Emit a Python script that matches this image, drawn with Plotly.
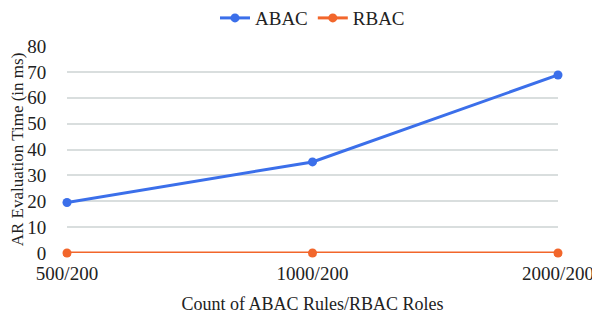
import plotly.graph_objects as go

categories = ["500/200", "1000/200", "2000/200"]
abac = [19.5, 35.2, 68.8]
rbac = [0, 0, 0]

font = "Liberation Serif, Times New Roman, serif"
fig = go.Figure()
fig.add_trace(go.Scatter(x=categories, y=abac, name="ABAC", mode="lines+markers", cliponaxis=False,
                         line=dict(color="#3B6FEA", width=3), marker=dict(size=9, color="#3B6FEA")))
fig.add_trace(go.Scatter(x=categories, y=rbac, name="RBAC", mode="lines+markers", cliponaxis=False,
                         line=dict(color="#F2662B", width=3), marker=dict(size=9, color="#F2662B")))
fig.update_layout(
    width=600, height=315,
    margin=dict(l=59, r=50, t=38, b=70, autoexpand=False),
    paper_bgcolor="white", plot_bgcolor="white",
    font=dict(family=font, size=19, color="#222"),
    legend=dict(orientation="h", x=0.5, xanchor="center", y=1.135, yanchor="middle",
                font=dict(size=19), itemwidth=30),
    xaxis=dict(type="category", range=[0, 2], showgrid=False, showline=False, zeroline=False,
               ticks="outside", ticklen=3, tickcolor="rgba(0,0,0,0)", automargin=False,
               title=dict(text="Count of ABAC Rules/RBAC Roles", standoff=14, font=dict(size=18)),
               tickfont=dict(size=19)),
    yaxis=dict(range=[0, 80], dtick=10, showgrid=True, gridcolor="#d9dede", gridwidth=1.5,
               zeroline=False, showline=False, ticks="outside", ticklen=16,
               tickcolor="rgba(0,0,0,0)", automargin=False,
               title=dict(text="AR Evaluation Time (in ms)", standoff=3, font=dict(size=17)),
               tickfont=dict(size=19)),
)
fig.write_html("out.html")
